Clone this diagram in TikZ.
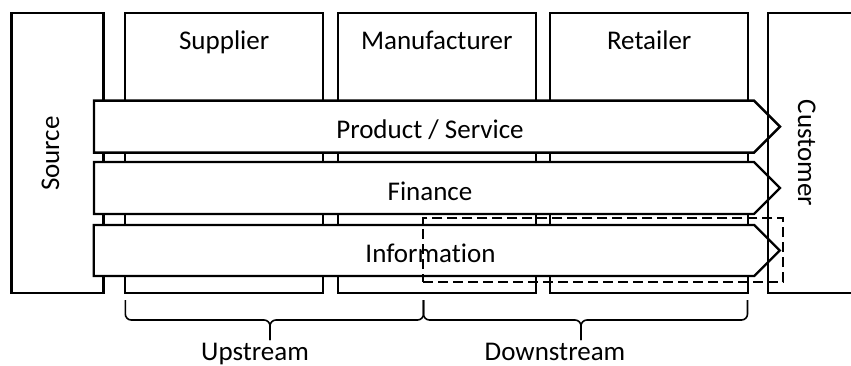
\documentclass[tikz,border=0pt]{standalone}
\usepackage{fontspec}
\setmainfont{Carlito}[Ligatures=NoCommon]
\usetikzlibrary{shapes.symbols, positioning}

\begin{document}
\begin{tikzpicture}[
  x=1pt, y=-1pt,
  every node/.style={font=\fontsize{27}{32}\selectfont},
  stage/.style={rectangle, draw, line width=2.4pt, minimum width=198pt,
    minimum height=280pt, inner sep=0pt},
  flow/.style={signal, signal to=east, signal from=nowhere, signal pointer angle=90,
    draw, fill=white, line width=2.4pt, minimum width=686pt, minimum height=52pt,
    inner sep=0pt},
  focus/.style={rectangle, draw, dash pattern=on 10pt off 5pt, line width=2pt,
    minimum width=360pt, minimum height=64pt, inner sep=0pt},
  bracket/.style={line width=1.6pt, rounded corners=6pt}
]
  \useasboundingbox (0,0) rectangle (851,365);
  \clip (0,0) rectangle (851,365);

  % chain members, drawn first so the flows cover them
  \node[stage, minimum width=92pt] (source) at (57.3,153) {};
  \node[stage] (supplier)     at (224.2,153) {};
  \node[stage] (manufacturer) at (436.8,153) {};
  \node[stage] (retailer)     at (649.2,153) {};

  \node[anchor=base] (supplierLbl)     at (224.2,49) {Supplier};
  \node[anchor=base] (manufacturerLbl) at (436.8,49) {Manufacturer};
  \node[anchor=base] (retailerLbl)     at (649.2,49) {Retailer};
  \node[rotate=90, anchor=base] (sourceLbl) at (59,153.5) {Source};

  % the three flows
  \node[flow] (product) at (424,126.6) {};
  \node[flow] (finance) at (424,188)   {};
  \node[flow, minimum height=51pt] (info) at (424,250.5) {};

  \node[anchor=base] (productLbl) at (430,138.3) {Product / Service};
  \node[anchor=base] (financeLbl) at (430,200)   {Finance};
  \node[anchor=base] (infoLbl)    at (430.5,262.5) {Information};

  % customer sits on top of the arrow tips
  \node[stage, minimum width=112pt] (customer) at (824,153) {};
  \node[rotate=-90, anchor=base] (customerLbl) at (798,153) {Customer};

  \node[focus] (downFocus) at (603.3,250) {};

  % braces underneath
  \coordinate (upL)    at (125.3,300);
  \coordinate (split)  at (423.5,300);
  \coordinate (downR)  at (747.5,300);
  \coordinate (upTip)  at (270,340);
  \coordinate (downTip) at (581,340);

  \draw[bracket] (upL)   |- ([yshift=20pt]upTip) -- (upTip);
  \draw[bracket] (split) |- ([yshift=20pt]upTip) -- (upTip);
  \draw[bracket] (split) |- ([yshift=20pt]downTip) -- (downTip);
  \draw[bracket] (downR) |- ([yshift=20pt]downTip) -- (downTip);

  \node[anchor=base] (upLbl)   at (255,360.5) {Upstream};
  \node[anchor=base] (downLbl) at (555,360.5) {Downstream};
\end{tikzpicture}
\end{document}
